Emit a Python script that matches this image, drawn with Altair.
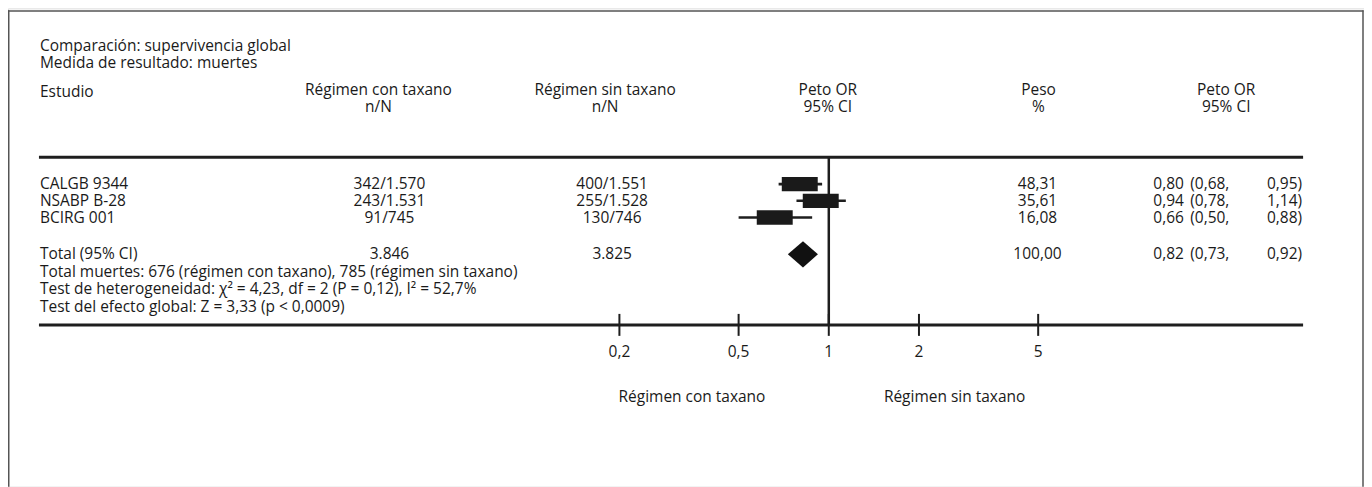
import altair as alt
import pandas as pd

# ---------------- data ----------------
titles = ["Comparación: supervivencia global", "Medida de resultado: muertes"]
studies = ["CALGB 9344", "NSABP B-28", "BCIRG 001"]
con_taxano = ["342/1.570", "243/1.531", "91/745"]
sin_taxano = ["400/1.551", "255/1.528", "130/746"]
or_est = [0.80, 0.94, 0.66]
or_low = [0.68, 0.78, 0.50]
or_high = [0.95, 1.14, 0.88]
peso = ["48,31", "35,61", "16,08"]
total_label = "Total (95% CI)"
total_con = "3.846"
total_sin = "3.825"
total_peso = "100,00"
total_est, total_low, total_high = 0.82, 0.73, 0.92
footnotes = [
    "Total muertes: 676 (régimen con taxano), 785 (régimen sin taxano)",
    "Test de heterogeneidad: χ² = 4,23, df = 2 (P = 0,12), I² = 52,7%",
    "Test del efecto global: Z = 3,33 (p < 0,0009)",
]
tick_values = [0.2, 0.5, 1, 2, 5]
tick_labels = ["0,2", "0,5", "1", "2", "5"]
favours = ["Régimen con taxano", "Régimen sin taxano"]

# ---------------- layout / style ----------------
W, H = 1358, 479
FONT = "Open Sans"
FS = 15.5
TXT = "#1a1a1a"
INK = "#1e1e1e"

def fmt(v):
    return f"{v:.2f}".replace(".", ",")

ROW_PX = 16.75
ROW0_PX = 176
ys = alt.Scale(domain=[-ROW0_PX / ROW_PX, (H - ROW0_PX) / ROW_PX], reverse=True, zero=False, nice=False)
LOG_PX = 300.0
ONE_PX = 822.0
xs = alt.Scale(type="log", domain=[10 ** (-ONE_PX / LOG_PX), 10 ** ((W - ONE_PX) / LOG_PX)], nice=False)

n = len(studies)
total_row = n + 1.2
rows = pd.DataFrame({
    "row": list(range(n)) + [total_row],
    "study": studies + [total_label],
    "con": con_taxano + [total_con],
    "sin": sin_taxano + [total_sin],
    "peso": peso + [total_peso],
    "est": [fmt(v) for v in or_est + [total_est]],
    "low": ["(" + fmt(v) + "," for v in or_low + [total_low]],
    "high": [fmt(v) + ")" for v in or_high + [total_high]],
})
studies_df = pd.DataFrame({"row": list(range(n)), "est": or_est, "low": or_low, "high": or_high})
diamond = pd.DataFrame({
    "x": [total_low, total_est, total_high],
    "y": [total_row, total_row - 0.78, total_row],
    "y2": [total_row, total_row + 0.78, total_row],
})
foot_df = pd.DataFrame({"row": [total_row + 1.05 * (i + 1) for i in range(len(footnotes))], "t": footnotes})
ticks_df = pd.DataFrame({"v": tick_values, "lab": tick_labels})
ref_df = pd.DataFrame({"v": [1.0]})

base = alt.Chart(rows)

def col_text(field, x, align):
    return base.mark_text(align=align, baseline="middle", font=FONT, fontSize=FS, color=TXT).encode(
        x=alt.value(x), y=alt.Y("row:Q", scale=ys, axis=None), text=f"{field}:N")

def fixed_text(txt, x, y, align="left"):
    return alt.Chart(pd.DataFrame({"t": [txt]})).mark_text(
        align=align, baseline="middle", font=FONT, fontSize=FS, color=TXT).encode(
        x=alt.value(x), y=alt.value(y), text="t:N")

def hrule(x1, x2, y, w, color=INK):
    return alt.Chart(pd.DataFrame({"a": [0]})).mark_rule(strokeWidth=w, color=color).encode(
        x=alt.value(x1), x2=alt.value(x2), y=alt.value(y))

def vrule(x, y1, y2, w, color=INK):
    return alt.Chart(pd.DataFrame({"a": [0]})).mark_rule(strokeWidth=w, color=color).encode(
        x=alt.value(x), y=alt.value(y1), y2=alt.value(y2))

layers = []
# frame (left, top, right)
layers += [vrule(0.75, 2, H, 1.5, "#555555"), hrule(0, 1357.5, 2.75, 1.5, "#555555"), vrule(1357, 2, H, 1.5, "#555555")]
# titles
layers += [fixed_text(titles[0], 32, 38), fixed_text(titles[1], 32, 55)]
# headers
layers += [
    fixed_text("Estudio", 32, 84),
    fixed_text("Régimen con taxano", 371, 82, "center"), fixed_text("n/N", 371, 99, "center"),
    fixed_text("Régimen sin taxano", 598, 82, "center"), fixed_text("n/N", 598, 99, "center"),
    fixed_text("Peto OR", 821, 82, "center"), fixed_text("95% CI", 821, 99, "center"),
    fixed_text("Peso", 1032, 82, "center"), fixed_text("%", 1032, 99, "center"),
    fixed_text("Peto OR", 1220, 82, "center"), fixed_text("95% CI", 1220, 99, "center"),
]
# horizontal lines
layers += [hrule(31, 1297, 149, 3), hrule(31, 1297, 317, 3)]
# table columns
layers += [
    col_text("study", 32, "left"),
    col_text("con", 382, "center"),
    col_text("sin", 605, "center"),
    col_text("peso", 1031, "center"),
    col_text("est", 1147, "left"),
    col_text("low", 1184, "left"),
    col_text("high", 1296, "right"),
]
# footnotes
layers.append(alt.Chart(foot_df).mark_text(align="left", baseline="middle", font=FONT, fontSize=FS, color=TXT).encode(
    x=alt.value(32), y=alt.Y("row:Q", scale=ys, axis=None), text="t:N"))
# line of no effect
layers.append(alt.Chart(ref_df).mark_rule(strokeWidth=2.5, color=INK).encode(
    x=alt.X("v:Q", scale=xs, axis=None), y=alt.value(149), y2=alt.value(317)))
# axis ticks and labels
layers.append(alt.Chart(ticks_df).mark_rule(strokeWidth=2, color=INK).encode(
    x=alt.X("v:Q", scale=xs, axis=None), y=alt.value(306), y2=alt.value(328)))
layers.append(alt.Chart(ticks_df).mark_text(baseline="middle", font=FONT, fontSize=FS, color=TXT).encode(
    x=alt.X("v:Q", scale=xs, axis=None), y=alt.value(344), text="lab:N"))
# favours labels
layers += [fixed_text(favours[0], 685, 389, "center"), fixed_text(favours[1], 948, 389, "center")]
# CI whiskers
layers.append(alt.Chart(studies_df).mark_rule(strokeWidth=2.6, color=INK).encode(
    x=alt.X("low:Q", scale=xs, axis=None), x2="high:Q", y=alt.Y("row:Q", scale=ys, axis=None)))
# boxes
layers.append(alt.Chart(studies_df).mark_point(
    shape="M-1,-0.4L1,-0.4L1,0.4L-1,0.4Z", filled=True, size=1296, opacity=1, color="#1a1a1a").encode(
    x=alt.X("est:Q", scale=xs, axis=None), y=alt.Y("row:Q", scale=ys, axis=None)))
# pooled diamond
layers.append(alt.Chart(diamond).mark_area(orient="vertical", color="#111111", opacity=1).encode(
    x=alt.X("x:Q", scale=xs, axis=None), y=alt.Y("y:Q", scale=ys, axis=None), y2="y2:Q"))

chart = alt.layer(*layers).properties(
    width=W, height=H, padding=0, autosize=alt.AutoSizeParams(type="none")
).configure_view(stroke=None).configure(background="white")

chart.save("out.html", embed_options={"renderer": "svg", "actions": False})
